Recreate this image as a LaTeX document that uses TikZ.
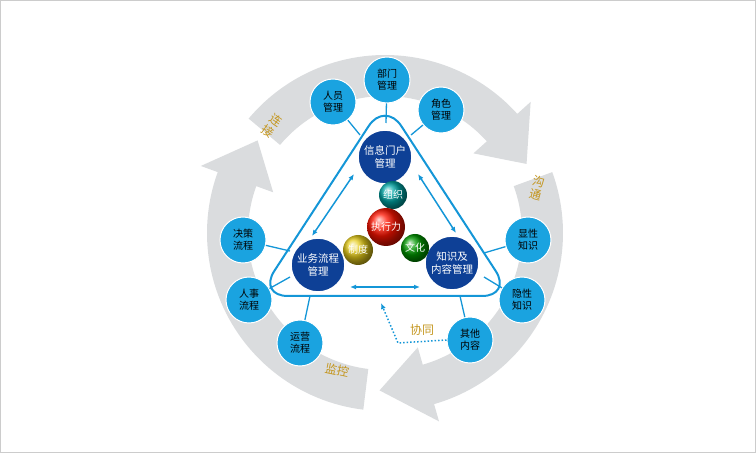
\documentclass[tikz,border=0pt]{standalone}
\usepackage{fontspec}
\setmainfont{Noto Sans CJK SC}
\usetikzlibrary{arrows.meta}
\definecolor{ringg}{RGB}{218,220,222}
\definecolor{sky}{RGB}{26,163,224}
\definecolor{navy}{RGB}{14,64,150}
\definecolor{gold}{RGB}{196,150,30}
\definecolor{lb}{RGB}{20,150,215}
\begin{document}
\begin{tikzpicture}[x=1pt,y=1pt,
  outer/.style={circle,fill=sky,draw=white,line width=1pt,minimum size=46pt,inner sep=0pt,align=center,font=\fontsize{10}{12}\selectfont,text=black},
  big/.style={circle,fill=navy,draw=white,line width=1.5pt,minimum size=54pt,inner sep=0pt,align=center,font=\fontsize{10.5}{13}\selectfont,text=white},
  ball/.style={circle,ball color=#1,minimum size=30pt,inner sep=0pt,text=white,font=\fontsize{10}{12}\selectfont},
  spoke/.style={lb,line width=1.3pt},
  dbl/.style={lb,line width=1.5pt,{Latex[length=6pt,width=5pt]}-{Latex[length=6pt,width=5pt]}},
  lbl/.style={text=gold,font=\fontsize{12}{13}\selectfont,align=center,inner sep=1pt}]
\useasboundingbox (0,0) rectangle (756,453);
\draw[gray!40,line width=1pt] (0.5,0.5) rectangle (755.5,452.5);
\def\R{178}\def\r{137}\def\m{157.5}
\begin{scope}[shift={(385,220)}]
\fill[ringg] (140:\R) arc[start angle=140,end angle=42,radius=\R] -- (42:\R+18) -- (26:\m) -- (42:\r-18) -- (42:\r) arc[start angle=42,end angle=140,radius=\r] -- cycle;
\fill[ringg] (20:\R) arc[start angle=20,end angle=-74,radius=\R] -- (-74:\R+18) -- (-92:\m) -- (-74:\r-18) -- (-74:\r) arc[start angle=-74,end angle=20,radius=\r] -- cycle;
\fill[ringg] (-97:\R) arc[start angle=-97,end angle=-200,radius=\R] -- (160:\R+18) -- (144:\m) -- (160:\r-18) -- (160:\r) arc[start angle=-200,end angle=-97,radius=\r] -- cycle;
\end{scope}
\node[lbl,rotate=-35] (l1) at (272,327) {连\\接};
\node[lbl,rotate=-15] (l2) at (537,265) {沟\\通};
\node[lbl,rotate=-12] (l3) at (337,83) {监控};
% triangle
\draw[lb,line width=2pt,rounded corners=30pt] (385,352) -- (258,157) -- (512,157) -- cycle;
\coordinate (t1) at (386,330); \coordinate (t2) at (360,318); \coordinate (t3) at (411,318);
\coordinate (t4) at (290,202); \coordinate (t5) at (290,176); \coordinate (t6) at (310,157);
\coordinate (t7) at (484,200); \coordinate (t8) at (484,176); \coordinate (t9) at (460,157);
\node[outer] (bm) at (387,373) {部门\\管理};
\node[outer] (ry) at (333,351) {人员\\管理};
\node[outer] (js) at (441,343) {角色\\管理};
\node[outer] (jc) at (243,213) {决策\\流程};
\node[outer] (rs) at (249,153) {人事\\流程};
\node[outer] (yy) at (300,110) {运营\\流程};
\node[outer] (xx) at (528,213) {显性\\知识};
\node[outer] (yx) at (522,153) {隐性\\知识};
\node[outer] (qt) at (470,113) {其他\\内容};
\foreach \a/\b in {bm/t1,ry/t2,js/t3,jc/t4,rs/t5,yy/t6,xx/t7,yx/t8,qt/t9} \draw[spoke] (\a) -- (\b);
\node[big] (xm) at (385,296) {信息门户\\管理};
\node[big] (yw) at (318,188) {业务流程\\管理};
\node[big] (zs) at (452,190) {知识及\\内容管理};
\draw[dbl] (354,279) -- (312,217);
\draw[dbl] (418,279) -- (456,220);
\draw[dbl] (350,166) -- (420,166);
\node[ball=teal!70!cyan,minimum size=28pt] (zz) at (393,258) {组织};
\node[ball=red!85!orange,minimum size=38pt] (zx) at (386,226) {执行力};
\node[ball=yellow!60!brown,minimum size=30pt] (zd) at (358,203) {制度};
\node[ball=green!60!black,minimum size=28pt] (wh) at (415,205) {文化};
\coordinate (d1) at (398,110);
\coordinate (d2) at (381,150);
\draw[lb,line width=1.5pt,dotted,-{Latex[length=6pt,width=5pt]}] (qt.west) -- (d1) -- (d2);
\node[lbl] (xt) at (422,123) {协同};
\end{tikzpicture}
\end{document}
